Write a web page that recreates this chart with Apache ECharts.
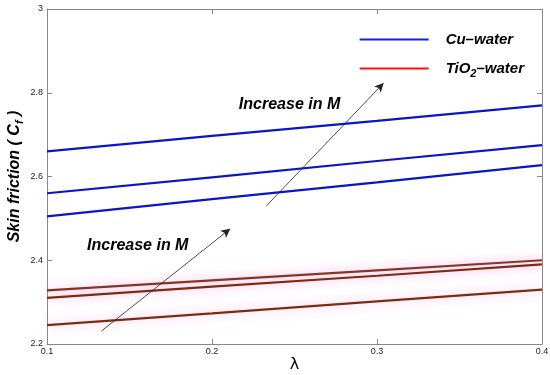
<!DOCTYPE html>
<html><head><meta charset="utf-8">
<script src="https://cdn.jsdelivr.net/npm/echarts@6/dist/echarts.min.js"></script>
<style>html,body{margin:0;padding:0;background:#fff}#c{width:550px;height:375px}</style>
</head><body><div id="c"></div>
<script>
const lambda = [0.1, 0.2, 0.3, 0.4];
const cuM1 = [2.660, 2.697, 2.733, 2.770];
const cuM2 = [2.560, 2.598, 2.637, 2.675];
const cuM3 = [2.505, 2.546, 2.586, 2.627];
const tiM1 = [2.328, 2.352, 2.376, 2.400];
const tiM2 = [2.310, 2.337, 2.363, 2.390];
const tiM3 = [2.245, 2.273, 2.302, 2.330];
const yTicks = [2.2, 2.4, 2.6, 2.8, 3];
const arrow1 = [[0.133, 2.231], [0.211, 2.475]];
const arrow2 = [[0.233, 2.530], [0.304, 2.823]];
const note1 = [0.155, 2.435];
const note2 = [0.247, 2.772];

const blue = '#0a14c8', brown = '#7e2c0e';
function pairs(ys){ return lambda.map((x,i)=>[x, ys[i]]); }
function mk(name, ys, color, glow){
  return {type:'line', name, data:pairs(ys), symbol:'none', silent:true,
    lineStyle:{color, width:2.2, shadowColor: glow ? 'rgba(245,160,235,0.95)' : 'transparent', shadowBlur: glow ? 12 : 0},
    itemStyle:{color}};
}
const chart = echarts.init(document.getElementById('c'));
const axLine = {show:true, lineStyle:{color:'#888', width:1}};
const note = {fontFamily:'Liberation Sans, Arial', fontWeight:'bold', fontStyle:'italic', fontSize:16, color:'#000'};
const series = [
  mk('Cu–water', cuM1, blue), mk('Cu–water', cuM2, blue), mk('Cu–water', cuM3, blue),
  mk('TiO2–water', tiM1, brown, true), mk('TiO2–water', tiM2, brown, true), mk('TiO2–water', tiM3, brown, true),
  {type:'line', data:[], silent:true,
   markLine:{silent:true, symbol:['none','arrow'], symbolSize:[7,9],
     lineStyle:{color:'#222', width:0.8, type:'solid'}, label:{show:false},
     data:[[{coord:arrow1[0]},{coord:arrow1[1]}],[{coord:arrow2[0]},{coord:arrow2[1]}]]},
   markPoint:{silent:true, symbol:'circle', symbolSize:0,
     label:Object.assign({show:true, formatter:'Increase in M'}, note),
     data:[{coord:note1},{coord:note2}]}}
];
chart.setOption({
  animation:false,
  backgroundColor:'#fff',
  grid:{left:47, right:8, top:9, bottom:31, containLabel:false, outerBoundsMode:'none'},
  legend:{
    orient:'vertical', right:21, top:27, itemWidth:69, itemHeight:2, itemGap:14, icon:'rect',
    textStyle:Object.assign({}, note, {fontSize:15, padding:[0,0,0,12], rich:{
      a:{fontFamily:'Liberation Sans, Arial', fontWeight:'bold', fontStyle:'italic', fontSize:15},
      s:{fontFamily:'Liberation Sans, Arial', fontWeight:'bold', fontStyle:'italic', fontSize:11, verticalAlign:'bottom', padding:[10,0,0,0]}}}),
    formatter:function(n){ return n==='TiO2–water' ? '{a|TiO}{s|2}{a|–water}' : '{a|'+n+'}'; },
    data:[{name:'Cu–water', itemStyle:{color:'#1020d8'}}, {name:'TiO2–water', itemStyle:{color:'#ff1010'}}]
  },
  xAxis:[{type:'value', min:0.1, max:0.4, interval:0.1, position:'bottom',
    name:'λ', nameLocation:'middle', nameGap:13, nameMoveOverlap:false,
    nameTextStyle:{fontFamily:'DejaVu Sans', fontSize:16, color:'#000'},
    axisLine:axLine, axisTick:{show:true, inside:true, length:5, lineStyle:{color:'#888'}},
    axisLabel:{fontFamily:'Liberation Sans, Arial', fontSize:9, color:'#222', margin:3, showMinLabel:true, showMaxLabel:true, formatter:v=>v.toFixed(1)},
    splitLine:{show:false}},
   {type:'value', min:0.1, max:0.4, interval:0.1, position:'top',
    axisLine:axLine, axisTick:{show:true, inside:true, length:5, lineStyle:{color:'#888'}},
    axisLabel:{show:false}, splitLine:{show:false}}],
  yAxis:[{type:'value', min:yTicks[0], max:yTicks[yTicks.length-1], interval:0.2, position:'left',
    name:'{b|Skin friction ( C}{s|f}{b| )}', nameLocation:'middle', nameGap:22, nameRotate:90, nameMoveOverlap:false,
    nameTextStyle:{rich:{
      b:{fontFamily:'Liberation Sans, Arial', fontWeight:'bold', fontStyle:'italic', fontSize:16, color:'#000'},
      s:{fontFamily:'Liberation Sans, Arial', fontWeight:'bold', fontStyle:'italic', fontSize:11, color:'#000', verticalAlign:'bottom', padding:[10,0,0,0]}}},
    axisLine:axLine, axisTick:{show:true, inside:true, length:5, lineStyle:{color:'#888'}},
    axisLabel:{fontFamily:'Liberation Sans, Arial', fontSize:9, color:'#222', margin:4, formatter:v=>(+v.toFixed(1)).toString()},
    splitLine:{show:false}},
   {type:'value', min:yTicks[0], max:yTicks[yTicks.length-1], interval:0.2, position:'right',
    axisLine:axLine, axisTick:{show:true, inside:true, length:5, lineStyle:{color:'#888'}},
    axisLabel:{show:false}, splitLine:{show:false}}],
  series
});
</script></body></html>
